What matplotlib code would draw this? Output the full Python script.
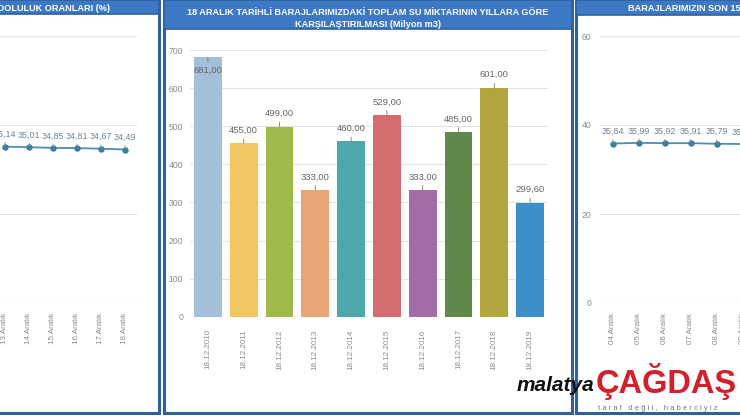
import matplotlib
matplotlib.use("Agg")
import matplotlib.pyplot as plt
from matplotlib.patches import Rectangle

plt.rcParams['font.family'] = ['Liberation Sans', 'DejaVu Sans']

# bar chart: total water on 18 December, by year (million m3)
years = ["18.12.2010", "18.12.2011", "18.12.2012", "18.12.2013", "18.12.2014",
         "18.12.2015", "18.12.2016", "18.12.2017", "18.12.2018", "18.12.2019"]
volumes = [681.00, 455.00, 499.00, 333.00, 460.00, 529.00, 333.00, 485.00, 601.00, 299.60]
bar_colors = ["#a3bfd9", "#efc65f", "#9dba4a", "#e9a475", "#4ea8a9",
              "#d36d6d", "#a46ca6", "#60884a", "#b0a63d", "#3d8fc9"]

# line chart pieces: dam fill ratio (%), last 15 days
left_days = ["13 Aralık", "14 Aralık", "15 Aralık", "16 Aralık", "17 Aralık", "18 Aralık"]
left_ratio = [35.14, 35.01, 34.85, 34.81, 34.67, 34.49]
right_days = ["04 Aralık", "05 Aralık", "06 Aralık", "07 Aralık", "08 Aralık", "09 Aralık"]
right_ratio = [35.84, 35.99, 35.92, 35.91, 35.79, 35.72]

W, H = 740, 417
HEAD = "#3c78c3"
EDGE = "#2f609f"
GRID = "#e3e3e3"
TXT = "#8a8a8a"
LINE = "#4a8fb0"


def box(x0, y0, x1, y1):
    return [x0 / W, 1 - y1 / H, (x1 - x0) / W, (y1 - y0) / H]


def fmt(v):
    return f"{v:.2f}".replace(".", ",")


fig = plt.figure(figsize=(W / 100, H / 100), dpi=100)
fig.patch.set_facecolor("white")

bg = fig.add_axes([0, 0, 1, 1], zorder=0)
bg.set_xlim(0, W)
bg.set_ylim(H, 0)
bg.axis("off")

# panel frames and header bars
for x0, x1, hh in [(-10, 159, 14), (164, 572, 29), (576, 760, 15)]:
    bg.add_patch(Rectangle((x0, 0), x1 - x0, 413, facecolor="white",
                           edgecolor=EDGE, lw=2.2))
    bg.add_patch(Rectangle((x0, 0), x1 - x0, hh, facecolor=HEAD,
                           edgecolor=EDGE, lw=1.2))

title_line = "BARAJLARIMIZIN SON 15 GÜNLÜK DOLULUK ORANLARI (%)"
bg.text(110, 8, title_line, ha="right", va="center", color="white",
        fontsize=6.6, fontweight="bold", clip_on=True)
bg.text(628, 8.5, title_line, ha="left", va="center", color="white",
        fontsize=6.6, fontweight="bold", clip_on=True)
bg.text(368, 12, "18 ARALIK TARİHLİ BARAJLARIMIZDAKİ TOPLAM SU MİKTARININ YILLARA GÖRE",
        ha="center", va="center", color="white", fontsize=6.6, fontweight="bold")
bg.text(368, 24, "KARŞILAŞTIRILMASI (Milyon m3)",
        ha="center", va="center", color="white", fontsize=6.6, fontweight="bold")

# centre: bar chart
ax = fig.add_axes(box(190, 50, 548, 316.7), zorder=2)
ax.set_facecolor("none")
x = range(len(years))
ax.bar(x, volumes, width=0.78, color=bar_colors, zorder=2)
ax.set_xlim(-0.5, len(years) - 0.5)
ax.set_ylim(0, 700)
ax.set_yticks(range(0, 701, 100))
ax.grid(axis="y", color=GRID, lw=0.8, zorder=0)
ax.set_xticks(list(x))
ax.set_xticklabels(years, rotation=90, fontsize=5.8, color=TXT)
ax.tick_params(axis="x", length=0, pad=9)
ax.tick_params(axis="y", length=0, labelsize=6.2, labelcolor=TXT, pad=5)
for s in ax.spines.values():
    s.set_visible(False)
for i, v in enumerate(volumes):
    off = -13 if v > 660 else 13
    ax.annotate(fmt(v), xy=(i, v), xytext=(0, off), textcoords="offset pixels",
                ha="center", va="center", fontsize=6.8, color="#666666",
                arrowprops=dict(arrowstyle="-", color="#777777", lw=0.6,
                                shrinkA=1, shrinkB=0), zorder=4)


def line_panel(rect, xlim, days, vals, show_y):
    a = fig.add_axes(box(*rect), zorder=2)
    a.set_facecolor("none")
    a.plot(range(len(vals)), vals, color=LINE, lw=1.3, marker="o", ms=3.6,
           mfc="#3a7f9e", mec="#3a7f9e", zorder=3, clip_on=False)
    a.set_xlim(*xlim)
    a.set_ylim(0, 60)
    a.set_yticks([0, 20, 40, 60])
    a.grid(axis="y", color=GRID, lw=0.8, zorder=0)
    a.set_xticks(range(len(days)))
    a.set_xticklabels(days, rotation=90, fontsize=5.8, color=TXT)
    a.tick_params(axis="x", length=0, pad=7)
    a.tick_params(axis="y", length=0, labelsize=6.2, labelcolor=TXT, pad=6,
                  labelleft=show_y)
    for s in a.spines.values():
        s.set_visible(False)
    for i, v in enumerate(vals):
        a.annotate(fmt(v), xy=(i, v), xytext=(0, 12), textcoords="offset pixels",
                   ha="center", va="center", fontsize=6.4, color="#6f8394",
                   arrowprops=dict(arrowstyle="-", color="#7a8a99", lw=0.6,
                                   shrinkA=0.5, shrinkB=0), zorder=4)
    return a


line_panel((0, 36, 137, 303), (-5 / 24, 132 / 24), left_days, left_ratio, False)
line_panel((600, 36, 760, 303), (-0.5, 148 / 24 - 0.5), right_days, right_ratio, True)

# newspaper watermark
bg.text(517, 391, "malatya", ha="left", va="baseline", fontsize=15,
        fontweight="bold", fontstyle="italic", color="#111111", zorder=5)
bg.text(596, 393, "ÇAĞDAŞ", ha="left", va="baseline", fontsize=23.5,
        fontweight="bold", color="#d3202b", zorder=5)
bg.text(598, 408, "t a r a f   d e ğ i l ,   h a b e r c i y i z", ha="left",
        va="center", fontsize=5.5, color="#777777", zorder=5)

fig.savefig("out.png", dpi=100)
